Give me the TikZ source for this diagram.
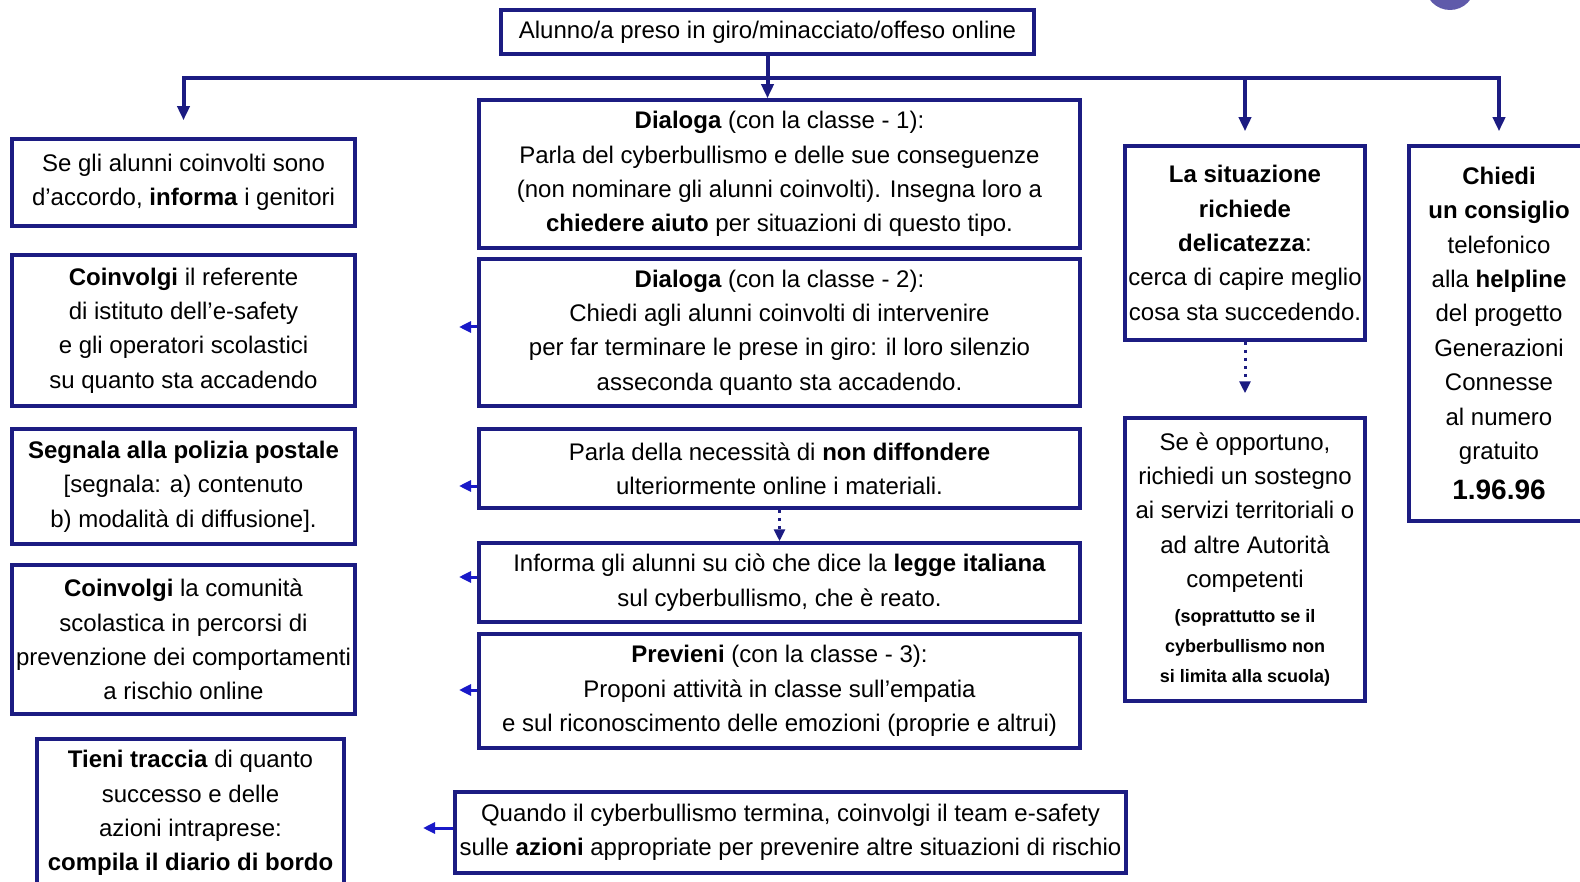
\documentclass[tikz,border=0pt]{standalone}
\usepackage{fontspec}
\setmainfont{Liberation Sans}
\usetikzlibrary{arrows.meta}

\definecolor{boxblue}{RGB}{28,28,130}
\definecolor{tipblue}{RGB}{25,25,200}
\definecolor{dotpurple}{RGB}{95,90,170}

\tikzset{
  box/.style={draw=boxblue, line width=1.75pt, align=center, inner sep=0pt,
    font=\fontsize{12}{17.2}\selectfont},
  conn/.style={draw=boxblue, line width=2pt},
  arr/.style={conn, -{Triangle[length=7pt,width=6pt]}},
  stub/.style={draw=tipblue, line width=1.5pt, -{Triangle[length=6pt,width=5.5pt]}},
  dots/.style={draw=boxblue, line width=1.5pt, dash pattern=on 1.5pt off 2.5pt,
    -{Triangle[length=6pt,width=5.5pt]}}
}
\newcommand{\smallbold}[1]{{\fontsize{9}{14}\selectfont\bfseries #1}}

\begin{document}
\begin{tikzpicture}[x=0.5pt,y=-0.5pt]
    \useasboundingbox (0,0) rectangle (1580,882);
    \fill[dotpurple] (1450,-15) circle[radius=25];

    % top box
    \node[box, minimum width=266.5pt, minimum height=22pt] (alunno) at (767.5,32) {Alunno/a preso in giro/minacciato/offeso online};

    % left column
    \node[box, minimum width=171.5pt, minimum height=43.5pt] (l1) at (183.5,182.5) {Se gli alunni coinvolti sono\\d’accordo, \textbf{informa} i genitori};
    \node[box, minimum width=171.5pt, minimum height=75.5pt] (l2) at (183.5,330.5) {\textbf{Coinvolgi} il referente\\di istituto dell’e-safety\\e gli operatori scolastici\\su quanto sta accadendo};
    \node[box, minimum width=171.5pt, minimum height=57.5pt] (l3) at (183.5,486.5) {\textbf{Segnala alla polizia postale}\\{}[segnala: a) contenuto\\b) modalità di diffusione].};
    \node[box, minimum width=171.5pt, minimum height=74.5pt] (l4) at (183.5,639.5) {\textbf{Coinvolgi} la comunità\\scolastica in percorsi di\\prevenzione dei comportamenti\\a rischio online};
    \node[box, minimum width=153.5pt, minimum height=74pt] (l5) at (190.5,813) {\textbf{Tieni traccia} di quanto\\successo e delle\\azioni intraprese:\\\textbf{compila il diario di bordo}};

    % middle column
    \node[box, minimum width=300.5pt, minimum height=74pt] (m1) at (779.5,174) {\textbf{Dialoga} (con la classe - 1):\\Parla del cyberbullismo e delle sue conseguenze\\(non nominare gli alunni coinvolti). Insegna loro a\\\textbf{chiedere aiuto} per situazioni di questo tipo.};
    \node[box, minimum width=300.5pt, minimum height=73.5pt] (m2) at (779.5,332.5) {\textbf{Dialoga} (con la classe - 2):\\Chiedi agli alunni coinvolti di intervenire\\per far terminare le prese in giro: il loro silenzio\\asseconda quanto sta accadendo.};
    \node[box, minimum width=300.5pt, minimum height=39.5pt] (m3) at (779.5,468.5) {Parla della necessità di \textbf{non diffondere}\\ulteriormente online i materiali.};
    \node[box, minimum width=300.5pt, minimum height=39.5pt] (m4) at (779.5,582.5) {Informa gli alunni su ciò che dice la \textbf{legge italiana}\\sul cyberbullismo, che è reato.};
    \node[box, minimum width=300.5pt, minimum height=57pt] (m5) at (779.5,691) {\textbf{Previeni} (con la classe - 3):\\Proponi attività in classe sull’empatia\\e sul riconoscimento delle emozioni (proprie e altrui)};
    \node[box, minimum width=335.5pt, minimum height=40.5pt] (m6) at (790.5,832.5) {Quando il cyberbullismo termina, coinvolgi il team e-safety\\sulle \textbf{azioni} appropriate per prevenire altre situazioni di rischio};

    % right columns
    \node[box, minimum width=120pt, minimum height=97pt] (r1) at (1245,243) {\textbf{La situazione}\\\textbf{richiede}\\\textbf{delicatezza}:\\cerca di capire meglio\\cosa sta succedendo.};
    \node[box, minimum width=120pt, minimum height=141.5pt] (r2) at (1245,559.5) {Se è opportuno,\\richiedi un sostegno\\ai servizi territoriali o\\ad altre Autorità\\competenti\\\smallbold{(soprattutto se il}\\[-2pt]\smallbold{cyberbullismo non}\\[-2pt]\smallbold{si limita alla scuola)}};
    \node[box, minimum width=90pt, minimum height=187.5pt] (r3) at (1499,333.5) {\textbf{Chiedi}\\\textbf{un consiglio}\\telefonico\\alla \textbf{helpline}\\del progetto\\Generazioni\\Connesse\\al numero\\gratuito\\[3pt]{\fontsize{14}{17}\selectfont\bfseries 1.96.96}};

    % connectors
    \coordinate (bus) at (767.5,78);
    \draw[arr] (alunno.south) -- (alunno.south |- m1.north);
    \draw[arr, shorten >=8.5pt] (bus) -| (l1.north);
    \draw[arr, shorten >=6.5pt] (bus) -| (r3.north);
    \draw[arr, shorten >=6.5pt] (bus -| r1.north) -- (r1.north);

    \coordinate (s2) at (459,327);
    \coordinate (s3) at (459,486);
    \coordinate (s4) at (459,577);
    \coordinate (s5) at (459,690);
    \coordinate (s6) at (423,828);
    \draw[stub] (m2.west |- s2) -- (s2);
    \draw[stub] (m3.west |- s3) -- (s3);
    \draw[stub] (m4.west |- s4) -- (s4);
    \draw[stub] (m5.west |- s5) -- (s5);
    \draw[stub] (m6.west |- s6) -- (s6);

    \draw[dots] (m3.south) -- (m4.north);
    \draw[dots, shorten >=11.5pt] (r1.south) -- (r2.north);
\end{tikzpicture}
\end{document}
